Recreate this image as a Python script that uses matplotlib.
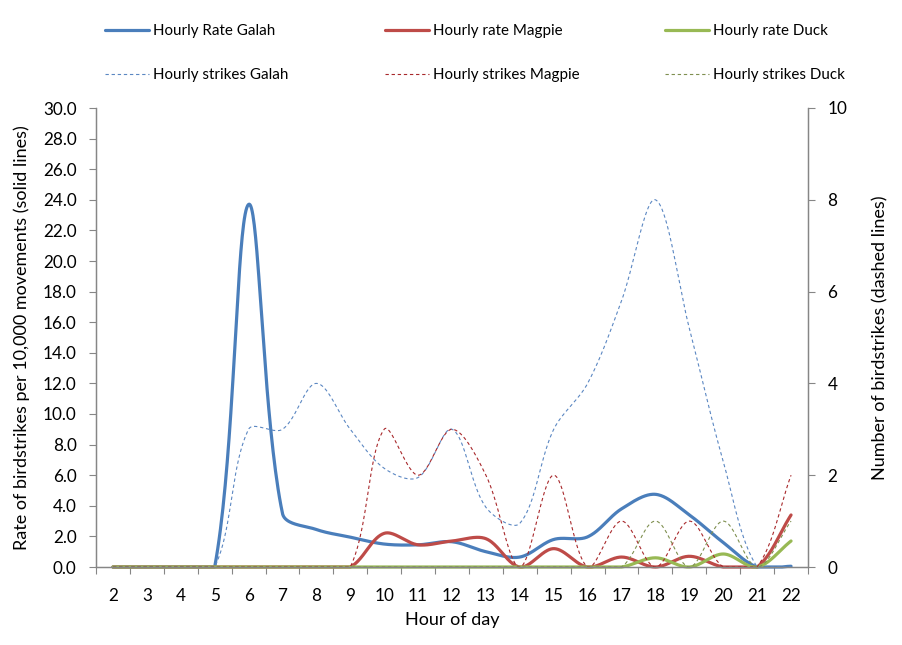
import numpy as np
import matplotlib
matplotlib.use("Agg")
import matplotlib.pyplot as plt

plt.rcParams['font.family'] = ['Lato', 'DejaVu Sans']

hours = list(range(2, 23))

rate_galah = [0, 0, 0, 0, 23.7, 3.5, 2.45, 1.95, 1.5, 1.45, 1.65, 1.0, 0.65, 1.8, 1.97, 3.8, 4.75, 3.4, 1.6, 0, 0.05]
rate_magpie = [0, 0, 0, 0, 0, 0, 0, 0, 2.2, 1.45, 1.7, 1.85, 0, 1.2, 0, 0.65, 0, 0.7, 0, 0, 3.4]
rate_duck = [0, 0, 0, 0, 0, 0, 0, 0, 0, 0, 0, 0, 0, 0, 0, 0, 0.6, 0, 0.85, 0, 1.7]

strikes_galah = [0, 0, 0, 0, 3, 3, 4, 3, 2.15, 1.95, 3, 1.3, 0.95, 3, 4, 5.8, 8, 5.2, 2.3, 0, 0]
strikes_magpie = [0, 0, 0, 0, 0, 0, 0, 0, 3, 2, 3, 2, 0, 2, 0, 1, 0, 1, 0, 0, 2]
strikes_duck = [0, 0, 0, 0, 0, 0, 0, 0, 0, 0, 0, 0, 0, 0, 0, 0, 1, 0, 1, 0, 1]

labels_rate = ['Hourly Rate Galah', 'Hourly rate Magpie', 'Hourly rate Duck']
labels_strikes = ['Hourly strikes Galah', 'Hourly strikes Magpie', 'Hourly strikes Duck']

col_rate = ['#4A7EBB', '#BE4B48', '#98B954']
col_strk = ['#5B87C2', '#A8282B', '#7F8F4F']


def smooth(axis, x, y, n=40):
    """Bezier smoothing (Excel-like) computed in display space."""
    tr = axis.transData
    pts = tr.transform(np.column_stack([x, y]).astype(float))
    P = np.vstack([pts[0], pts, pts[-1]])
    out = []
    t = np.linspace(0, 1, n)[:, None]
    for i in range(len(pts) - 1):
        p0, p1, p2, p3 = P[i], P[i + 1], P[i + 2], P[i + 3]
        d01 = np.hypot(*(p1 - p0))
        d12 = np.hypot(*(p2 - p1))
        d23 = np.hypot(*(p3 - p2))
        f1 = d12 / (d01 + d12) / 3 if d01 + d12 > 0 else 0
        f2 = d12 / (d12 + d23) / 3 if d12 + d23 > 0 else 0
        c1 = p1 + (p2 - p0) * f1
        c2 = p2 - (p3 - p1) * f2
        seg = (1 - t) ** 3 * p1 + 3 * (1 - t) ** 2 * t * c1 + 3 * (1 - t) * t ** 2 * c2 + t ** 3 * p2
        out.append(seg if i == 0 else seg[1:])
    s = tr.inverted().transform(np.vstack(out))
    s[:, 1] = np.clip(s[:, 1], 0, None)
    return s[:, 0], s[:, 1]


fig = plt.figure(figsize=(9.03, 6.45), dpi=100)
ax = fig.add_axes([96 / 903, 1 - 567 / 645, (808 - 96) / 903, (567 - 108) / 645])
ax2 = ax.twinx()

ax.set_xlim(1.5, 22.5)
ax.set_ylim(0, 30)
ax2.set_ylim(0, 10)

rate_lines = []
for ys, c, lab in zip([rate_galah, rate_magpie, rate_duck], col_rate, labels_rate):
    sx, sy = smooth(ax, hours, ys)
    l, = ax.plot(sx, sy, color=c, lw=2.3, label=lab, clip_on=False, solid_capstyle='round')
    rate_lines.append(l)

strk_lines = []
for ys, c, lab in zip([strikes_galah, strikes_magpie, strikes_duck], col_strk, labels_strikes):
    sx, sy = smooth(ax2, hours, ys)
    l, = ax2.plot(sx, sy, color=c, lw=0.8, ls=(0, (3, 2.5)), label=lab, clip_on=False)
    strk_lines.append(l)

ax.set_xlim(1.5, 22.5)
ax.set_ylim(0, 30)
ax2.set_ylim(0, 10)

ax.set_yticks(np.arange(0, 31, 2))
ax.set_yticklabels([f'{v:.1f}' for v in np.arange(0, 31, 2)])
ax2.set_yticks(np.arange(0, 11, 2))

TS = 12.3
ax.set_xticks(np.arange(1.5, 23, 1))
ax.set_xticklabels([])
ax.set_xticks(hours, minor=True)
ax.set_xticklabels([str(h) for h in hours], minor=True)
ax.tick_params(axis='x', which='minor', length=0, pad=15, labelsize=TS)
ax.tick_params(axis='x', which='major', length=5, color='#868686', direction='out')
ax.tick_params(axis='y', length=5, color='#868686', labelsize=TS, pad=9)
ax2.tick_params(axis='y', length=5, color='#868686', labelsize=TS, pad=9)

for a in (ax, ax2):
    for s in a.spines.values():
        s.set_color('#868686')
        s.set_linewidth(0.9)
    a.spines['top'].set_visible(False)

ax.set_xlabel('Hour of day', fontsize=13, labelpad=6)
ax.set_ylabel('Rate of birdstrikes per 10,000 movements (solid lines)', fontsize=13, labelpad=9)
ax2.set_ylabel('Number of birdstrikes (dashed lines)', fontsize=13, labelpad=18)

for i, xpx in enumerate([105, 385, 665]):
    fig.legend(handles=[rate_lines[i], strk_lines[i]], loc='upper left',
               bbox_to_anchor=(xpx / 903, 1 - 24 / 645), frameon=False,
               fontsize=10.9, handlelength=2.9, handletextpad=0.3,
               labelspacing=2.0, borderpad=0, borderaxespad=0)

fig.savefig('out.png', dpi=100)
